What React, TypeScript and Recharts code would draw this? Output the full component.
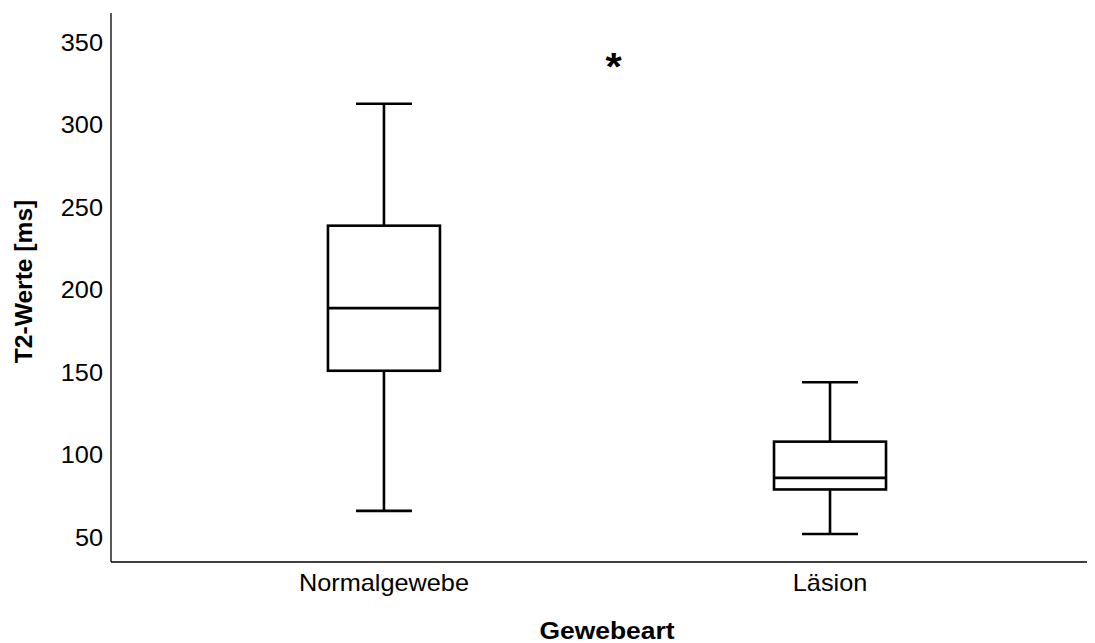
import React from 'react';
import { ComposedChart, Bar, XAxis, YAxis, ReferenceDot, Label } from 'recharts';

// Box plot of T2 values per tissue type
const categories = ['Normalgewebe', 'Läsion'];
const positions = [1, 2];
const whiskerLow = [66, 52];
const quartile1 = [151, 79];
const medians = [189, 86];
const quartile3 = [239, 108];
const whiskerHigh = [313, 144];
const yTicks = [50, 100, 150, 200, 250, 300, 350];
const markerX = 1.515;
const markerY = 340;
const markerText = '*';

const data = categories.map((name, i) => ({
  name,
  pos: positions[i],
  range: [whiskerLow[i], whiskerHigh[i]],
  q1: quartile1[i],
  median: medians[i],
  q3: quartile3[i],
}));

const FONT = 'Liberation Sans, Arial, Helvetica, sans-serif';
const FONT_SIZE = 23;
const STRETCH = 1.1;
const STROKE = 2.6;

const BoxShape = (props: any) => {
  const { x, y, width, height, payload } = props;
  const [lo, hi] = payload.range;
  const toY = (v: number) => y + (height * (hi - v)) / (hi - lo);
  const cx = x + width / 2;
  const cap = width / 4;
  const yHi = toY(hi);
  const yLo = toY(lo);
  const yQ3 = toY(payload.q3);
  const yQ1 = toY(payload.q1);
  const yMed = toY(payload.median);
  return (
    <g stroke="#000" strokeWidth={STROKE} fill="none">
      <line x1={cx} y1={yHi} x2={cx} y2={yQ3} />
      <line x1={cx - cap} y1={yHi} x2={cx + cap} y2={yHi} />
      <rect x={x} y={yQ3} width={width} height={yQ1 - yQ3} fill="#fff" />
      <line x1={x} y1={yMed} x2={x + width} y2={yMed} />
      <line x1={cx} y1={yQ1} x2={cx} y2={yLo} />
      <line x1={cx - cap} y1={yLo} x2={cx + cap} y2={yLo} />
    </g>
  );
};

const YTick = (props: any) => {
  const { x, y, payload } = props;
  return (
    <g transform={`translate(${x},${y})`}>
      <text
        x={0}
        y={0}
        dy="0.36em"
        textAnchor="end"
        transform={`scale(${STRETCH},1)`}
        fontSize={FONT_SIZE}
        fontFamily={FONT}
        fill="#000"
      >
        {payload.value}
      </text>
    </g>
  );
};

const XTick = (props: any) => {
  const { x, y, payload } = props;
  const idx = positions.indexOf(payload.value);
  return (
    <g transform={`translate(${x},${y + 21})`}>
      <text
        x={0}
        y={0}
        textAnchor="middle"
        transform={`scale(${STRETCH},1)`}
        fontSize={FONT_SIZE}
        fontFamily={FONT}
        fill="#000"
      >
        {idx >= 0 ? categories[idx] : ''}
      </text>
    </g>
  );
};

const XTitle = (props: any) => {
  const { viewBox } = props;
  const cx = viewBox.x + viewBox.width / 2 + 4;
  return (
    <g transform={`translate(${cx},${viewBox.y + 77})`}>
      <text
        textAnchor="middle"
        transform={`scale(1.15,1)`}
        fontSize={FONT_SIZE}
        fontWeight="bold"
        fontFamily={FONT}
        fill="#000"
      >
        Gewebeart
      </text>
    </g>
  );
};

const YTitle = (props: any) => {
  const { viewBox } = props;
  const cy = viewBox.y + viewBox.height / 2 - 6;
  return (
    <g transform={`translate(24,${cy}) rotate(-90)`}>
      <text
        textAnchor="middle"
        transform={`scale(1.07,1)`}
        fontSize={FONT_SIZE}
        fontWeight="bold"
        fontFamily={FONT}
        fill="#000"
      >
        T2-Werte [ms]
      </text>
    </g>
  );
};

const Marker = (props: any) => {
  const { cx, cy } = props;
  return (
    <g transform={`translate(${cx},${cy})`}>
      <text
        textAnchor="middle"
        dy="0.55em"
        transform={`scale(${STRETCH},1)`}
        fontSize={38}
        fontWeight="bold"
        fontFamily={FONT}
        fill="#000"
      >
        {markerText}
      </text>
    </g>
  );
};

export default function App() {
  return (
    <ComposedChart
      width={1087}
      height={635}
      data={data}
      margin={{ top: 5, right: 0, bottom: 0, left: 0 }}
    >
      <XAxis
        type="number"
        dataKey="pos"
        domain={[0.388, 2.594]}
        ticks={positions}
        allowDataOverflow
        tickLine={false}
        axisLine={{ stroke: '#000', strokeWidth: 1.3 }}
        tick={<XTick />}
        height={81}
      >
        <Label content={<XTitle />} />
      </XAxis>
      <YAxis
        type="number"
        domain={[35, 368]}
        ticks={yTicks}
        allowDataOverflow
        tickLine={false}
        axisLine={{ stroke: '#000', strokeWidth: 1.3 }}
        tick={<YTick />}
        width={103}
      >
        <Label content={<YTitle />} />
      </YAxis>
      <Bar dataKey="range" barSize={112} shape={<BoxShape />} isAnimationActive={false} />
      <ReferenceDot x={markerX} y={markerY} r={0} shape={<Marker />} />
    </ComposedChart>
  );
}
